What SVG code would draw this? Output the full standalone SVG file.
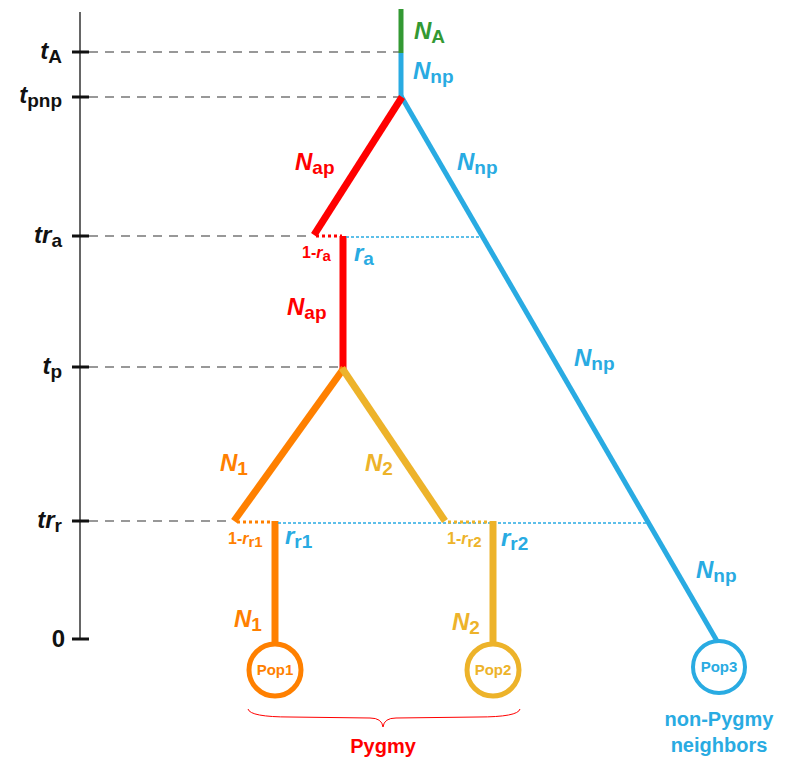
<svg xmlns="http://www.w3.org/2000/svg" width="787" height="767" viewBox="0 0 787 767">
<style>
text{font-family:"Liberation Sans",Arial,sans-serif;font-weight:bold}
.ax{font-size:24px;fill:#111}
.lab{font-size:24px}
.it{font-style:italic}
.sub{font-size:19px;font-style:normal}
.sm{font-size:16px}
.smsub{font-size:15px;font-style:normal}
.red{fill:#FF0000}.blue{fill:#29ABE2}.green{fill:#339933}.orange{fill:#FF8000}.gold{fill:#EDB32A}
.dash{stroke:#333;stroke-width:1.2;stroke-dasharray:9,7;fill:none}
.tick{stroke:#111;stroke-width:3}
.pop{font-size:15px}
</style>
<g id="axis">
<line x1="80" y1="12" x2="80" y2="640" stroke="#333" stroke-width="1.5"/>
<line class="tick" x1="72" y1="52" x2="89" y2="52"/>
<line class="tick" x1="72" y1="97" x2="89" y2="97"/>
<line class="tick" x1="72" y1="236" x2="89" y2="236"/>
<line class="tick" x1="72" y1="367" x2="89" y2="367"/>
<line class="tick" x1="72" y1="521" x2="89" y2="521"/>
<line class="tick" x1="72" y1="639" x2="89" y2="639"/>
<line class="dash" x1="89" y1="52" x2="400" y2="52"/>
<line class="dash" x1="89" y1="97" x2="400" y2="97"/>
<line class="dash" x1="89" y1="236" x2="312" y2="236"/>
<line class="dash" x1="89" y1="367" x2="340" y2="367"/>
<line class="dash" x1="89" y1="521" x2="232" y2="521"/>
<text class="ax it" x="62" y="59" text-anchor="end">t<tspan class="sub" dy="4">A</tspan></text>
<text class="ax it" x="62" y="103" text-anchor="end">t<tspan class="sub" dy="4">pnp</tspan></text>
<text class="ax it" x="62" y="243" text-anchor="end">tr<tspan class="sub" dy="4">a</tspan></text>
<text class="ax it" x="62" y="374" text-anchor="end">t<tspan class="sub" dy="4">p</tspan></text>
<text class="ax it" x="62" y="528" text-anchor="end">tr<tspan class="sub" dy="4">r</tspan></text>
<text class="ax" x="65" y="647" text-anchor="end">0</text>
</g>
<g id="connectors" fill="none">
<line x1="401" y1="9" x2="401" y2="53" stroke="#339933" stroke-width="5"/>
<line x1="401" y1="53" x2="401" y2="97" stroke="#29ABE2" stroke-width="5"/>
<line x1="401" y1="96" x2="717" y2="641" stroke="#29ABE2" stroke-width="5"/>
<line x1="402" y1="97" x2="314" y2="235" stroke="#FF0000" stroke-width="7"/>
<line x1="316" y1="236" x2="342" y2="236" stroke="#FF0000" stroke-width="3" stroke-dasharray="3,3"/>
<line x1="343" y1="236" x2="343" y2="369" stroke="#FF0000" stroke-width="7"/>
<line x1="346" y1="237" x2="484" y2="237" stroke="#29ABE2" stroke-width="1.5" stroke-dasharray="3,2"/>
<line x1="344" y1="368" x2="234" y2="521" stroke="#FF8000" stroke-width="7"/>
<line x1="342" y1="368" x2="445" y2="521" stroke="#EDB32A" stroke-width="7"/>
<line x1="237" y1="522" x2="272" y2="522" stroke="#FF8000" stroke-width="3" stroke-dasharray="3,3"/>
<line x1="275" y1="521" x2="275" y2="644" stroke="#FF8000" stroke-width="7"/>
<line x1="278" y1="523" x2="650" y2="523" stroke="#29ABE2" stroke-width="1.5" stroke-dasharray="3,2"/>
<line x1="448" y1="522" x2="490" y2="522" stroke="#EDB32A" stroke-width="3" stroke-dasharray="3,3"/>
<line x1="493" y1="521" x2="493" y2="644" stroke="#EDB32A" stroke-width="7"/>
<path d="M248,709 Q250,717 290,717 L370,718 Q382,718 383,727 Q384,718 396,718 L478,717 Q518,717 520,709" stroke="#FF0000" stroke-width="1"/>
</g>
<g id="labels">
<text class="lab it green" x="414" y="39">N<tspan class="sub" dy="4">A</tspan></text>
<text class="lab it blue" x="413" y="79">N<tspan class="sub" dy="4">np</tspan></text>
<text class="lab it red" x="295" y="170">N<tspan class="sub" dy="4">ap</tspan></text>
<text class="lab it blue" x="457" y="170">N<tspan class="sub" dy="4">np</tspan></text>
<text class="sm red" x="302" y="258">1-<tspan class="it">r</tspan><tspan class="smsub" dy="3">a</tspan></text>
<text class="lab it blue" x="354" y="261">r<tspan class="sub" dy="4">a</tspan></text>
<text class="lab it red" x="287" y="315">N<tspan class="sub" dy="4">ap</tspan></text>
<text class="lab it blue" x="574" y="366">N<tspan class="sub" dy="4">np</tspan></text>
<text class="lab it orange" x="220" y="471">N<tspan class="sub" dy="4">1</tspan></text>
<text class="lab it gold" x="365" y="471">N<tspan class="sub" dy="4">2</tspan></text>
<text class="sm orange" x="228" y="544">1-<tspan class="it">r</tspan><tspan class="smsub" dy="3">r1</tspan></text>
<text class="lab it blue" x="285" y="544">r<tspan class="sub" dy="4">r1</tspan></text>
<text class="sm gold" x="447" y="544">1-<tspan class="it">r</tspan><tspan class="smsub" dy="3">r2</tspan></text>
<text class="lab it blue" x="501" y="546">r<tspan class="sub" dy="4">r2</tspan></text>
<text class="lab it blue" x="696" y="578">N<tspan class="sub" dy="4">np</tspan></text>
<text class="lab it orange" x="234" y="627">N<tspan class="sub" dy="4">1</tspan></text>
<text class="lab it gold" x="452" y="630">N<tspan class="sub" dy="4">2</tspan></text>
<text class="red" x="383" y="753" font-size="20" text-anchor="middle">Pygmy</text>
<text class="blue" x="719" y="726" font-size="20" text-anchor="middle">non-Pygmy</text>
<text class="blue" x="719" y="752" font-size="20" text-anchor="middle">neighbors</text>
</g>
<g id="pop1">
<circle cx="275" cy="670" r="26" fill="#fff" stroke="#FF8000" stroke-width="5"/>
<text class="orange pop" x="275" y="675">Pop1</text>
</g>
<g id="pop2">
<circle cx="493" cy="670" r="26" fill="#fff" stroke="#EDB32A" stroke-width="5"/>
<text class="gold pop" x="493" y="675">Pop2</text>
</g>
<g id="pop3">
<circle cx="719" cy="667" r="26" fill="#fff" stroke="#29ABE2" stroke-width="4"/>
<text class="blue pop" x="719" y="672">Pop3</text>
</g>
<style>.pop{text-anchor:middle}</style>
</svg>
